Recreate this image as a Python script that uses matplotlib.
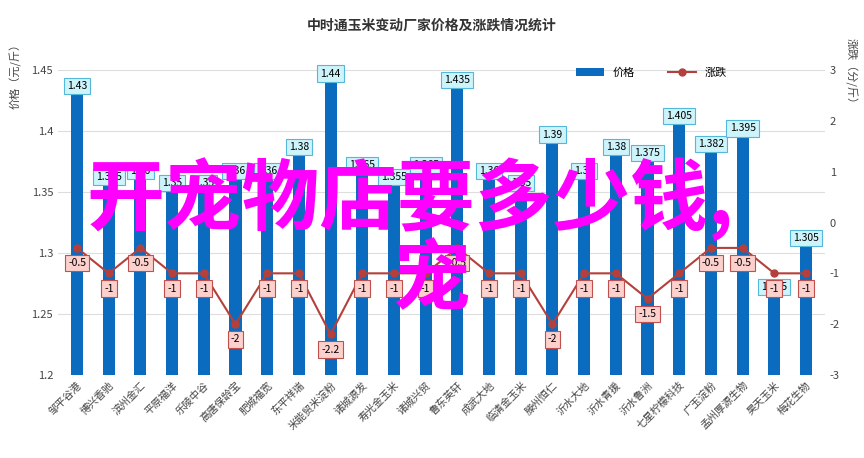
import matplotlib
matplotlib.use("Agg")
import matplotlib.pyplot as plt
import numpy as np

plt.rcParams['font.family'] = ['Noto Sans CJK SC', 'DejaVu Sans']

categories = ["邹平谷港", "博兴香驰", "滨州金汇", "平原福洋", "乐陵中谷", "高唐保龄宝", "肥城福宽", "东平祥瑞",
              "米能贸米淀粉", "诸城源发", "寿光金玉米", "诸城兴贸", "鲁东英轩", "成武大地", "临清金玉米", "滕州恒仁",
              "沂水大地", "沂水青援", "沂水鲁洲", "七星柠檬科技", "广玉淀粉", "孟州厚源生物", "昊天玉米", "梅花生物"]
prices = [1.43, 1.355, 1.36, 1.35, 1.35, 1.36, 1.36, 1.38, 1.44, 1.365, 1.355, 1.365, 1.435, 1.36, 1.35, 1.39,
          1.36, 1.38, 1.375, 1.405, 1.382, 1.395, 1.265, 1.305]
changes = [-0.5, -1, -0.5, -1, -1, -2, -1, -1, -2.2, -1, -1, -1, -0.5, -1, -1, -2, -1, -1, -1.5, -1, -0.5, -0.5, -1, -1]

fig = plt.figure(figsize=(8.64, 4.58), dpi=100)
ax = fig.add_axes([58/864, 83/458, 767/864, 305/458])
x = np.arange(len(categories))
ax.bar(x, prices, width=0.38, color='#0b6cbf', zorder=2, label='价格')
ax.set_ylim(1.2, 1.45)
ax.set_xlim(-0.6, len(categories) - 0.4)
ax.set_yticks([1.2, 1.25, 1.3, 1.35, 1.4, 1.45])
ax.set_yticklabels(['1.2', '1.25', '1.3', '1.35', '1.4', '1.45'], fontsize=8, color='#444')
ax.grid(axis='y', color='#dddddd', lw=0.8, zorder=0)
ax.set_xticks(x)
ax.set_xticklabels(categories, rotation=45, ha='right', rotation_mode='anchor', fontsize=7.5, color='#444')
ax.tick_params(length=0)
for s in ax.spines.values():
    s.set_visible(False)
for xi, p in zip(x, prices):
    ax.text(xi, p + 0.003, f"{p:g}", ha='center', va='bottom', fontsize=7.5, zorder=5,
            bbox=dict(boxstyle='square,pad=0.3', fc='#cdf3fb', ec='#55b8d8', lw=0.8))

ax2 = ax.twinx()
ax2.plot(x, changes, color='#b5403b', lw=1.5, marker='o', ms=5, zorder=3, label='涨跌')
ax2.set_ylim(-3, 3)
ax2.set_yticks(range(-3, 4))
ax2.set_yticklabels([str(v) for v in range(-3, 4)], fontsize=8, color='#444')
ax2.tick_params(length=0)
for s in ax2.spines.values():
    s.set_visible(False)
for xi, c in zip(x, changes):
    ax2.text(xi, c - 0.3, f"{c:g}", ha='center', va='center', fontsize=7.5, zorder=5,
             bbox=dict(boxstyle='square,pad=0.3', fc='#fcd0cc', ec='#c0504d', lw=0.8))

fig.text(0.5, 0.935, "中时通玉米变动厂家价格及涨跌情况统计", ha='center', fontsize=10, color='#333', weight='bold')
fig.text(0.018, 0.84, "价格（元/斤）", rotation=90, ha='center', va='center', fontsize=8, color='#444')
fig.text(0.985, 0.84, "涨跌（分/斤）", rotation=270, ha='center', va='center', fontsize=8, color='#444')

h1, l1 = ax.get_legend_handles_labels()
h2, l2 = ax2.get_legend_handles_labels()
fig.legend(h1 + h2, l1 + l2, loc='upper left', bbox_to_anchor=(0.655, 0.875), ncol=2, frameon=False,
           fontsize=8, handlelength=2.5, columnspacing=3)

fig.text(0.475, 0.565, "开宠物店要多少钱,", ha='center', va='center', fontsize=56, color='#ff00ff',
         weight='bold', zorder=10)
fig.text(0.5, 0.385, "宠", ha='center', va='center', fontsize=56, color='#ff00ff', weight='bold', zorder=10)

fig.savefig("out.png", dpi=100)
